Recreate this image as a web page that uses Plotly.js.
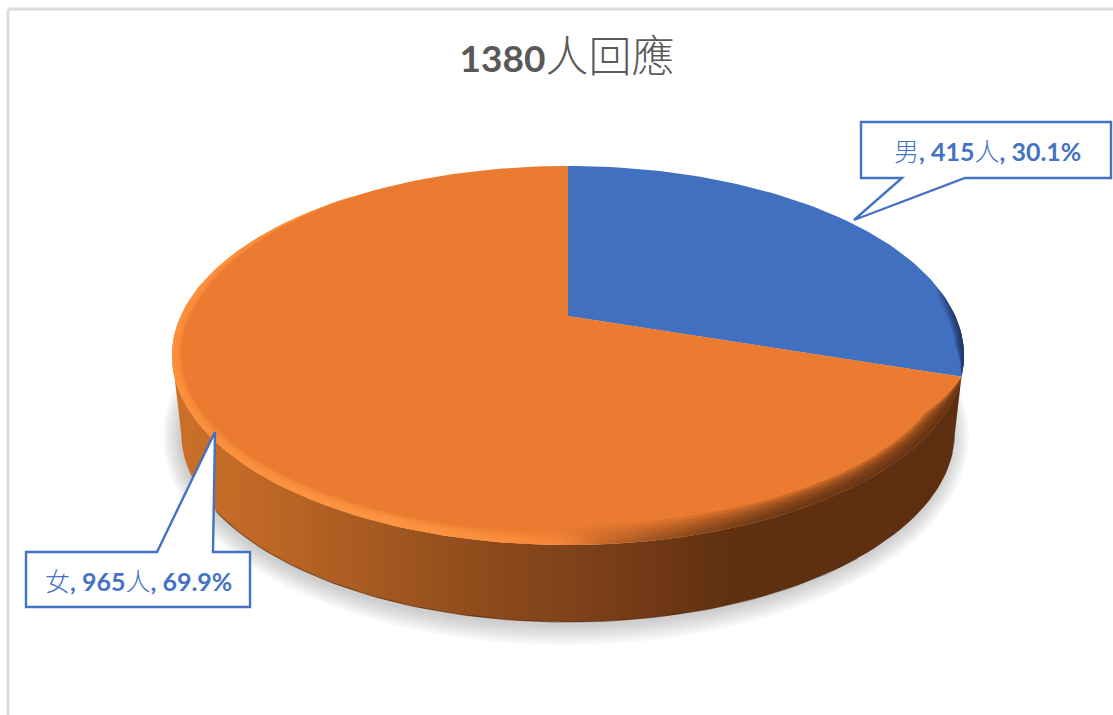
<!DOCTYPE html>
<html><head><meta charset="utf-8">
<script src="https://cdn.plot.ly/plotly-3.0.1.min.js"></script>
<style>html,body{margin:0;padding:0;background:#fff}#c{width:1113px;height:715px}</style>
</head><body><div id="c"></div>
<script>
var categories = ['男', '女'];
var counts = [415, 965];
var unit = '人';
var titleCount = 1380;
var titleSuffix = '回應';

var total = counts[0] + counts[1];
var splitDeg = 360 * counts[0] / total;
var cx = 568, cy = 316, k = 0.2084, A = 387.3, B = 181.3, midY = 355, depth = 77, lowScale = 0.977;
function rim(t) {
  var r = t * Math.PI / 180, u = Math.sin(r), v = Math.cos(r), d = 1 + k * v;
  return [cx + A * u / d, cy - B * v / d];
}
function low(t) { var p = rim(t); return [cx + (p[0] - cx) * lowScale, p[1] + depth]; }
function degs(a, b) { var o = [], s = a < b ? 1.5 : -1.5, t = a; while ((s > 0 && t < b) || (s < 0 && t > b)) { o.push(t); t += s; } o.push(b); return o; }
function poly(pts, extra) {
  var tr = { type: 'scatter', mode: 'lines', x: pts.map(function (p) { return p[0]; }), y: pts.map(function (p) { return p[1]; }),
    fill: 'toself', line: { width: 0 }, hoverinfo: 'skip', showlegend: false };
  for (var q in extra) tr[q] = extra[q];
  return tr;
}
function grad(stops) {
  var x0 = 172, x1 = 964;
  return { type: 'horizontal', start: x0, stop: x1, colorscale: stops.map(function (s) { return [(s[0] - x0) / (x1 - x0), s[1]]; }) };
}
function ring(a, b, w, fg, taper) {
  var ts = degs(a, b), outer = ts.map(rim);
  var inner = ts.slice().reverse().map(function (t) {
    var p = rim(t), f = Math.min(1, Math.min(t - a, b - t) / taper);
    var ww = w * f * (0.55 + 0.45 * Math.max(0, (p[1] - 166) / 379));
    return [568 + (p[0] - 568) * (1 - ww / 396), midY + (p[1] - midY) * (1 - ww / 190)];
  });
  return poly(outer.concat(inner), { fillgradient: grad(fg) });
}

var traces = [];
// ground shadow
for (var i = 0; i < 9; i++) {
  var ea = 387 + i * 2.0, eb = 190 + i * 2.4, pts = [];
  degs(0, 360).forEach(function (t) { var r = t * Math.PI / 180; pts.push([566 + ea * Math.cos(r), 436 + eb * Math.sin(r)]); });
  traces.push(poly(pts, { fillcolor: 'rgba(120,120,120,0.045)' }));
}
// walls
var wallBlue = degs(102, splitDeg);
traces.push(poly(wallBlue.map(rim).concat(wallBlue.slice().reverse().map(low)), { fillcolor: '#27477f' }));
var wallOrange = degs(splitDeg, 258);
traces.push(poly(wallOrange.map(rim).concat(wallOrange.slice().reverse().map(low)), {
  fillgradient: grad([[172, '#cb7029'], [260, '#bf6826'], [400, '#a0561f'], [480, '#8e4b1b'], [570, '#7f4219'], [660, '#703816'], [730, '#5f3010'], [964, '#5d2f10']])
}));
var lowEdge = degs(140, 235).map(low);
traces.push({ type: 'scatter', mode: 'lines', x: lowEdge.map(function (p) { return p[0]; }), y: lowEdge.map(function (p) { return p[1]; }),
  line: { color: 'rgba(70,32,5,0.55)', width: 1.2 }, hoverinfo: 'skip', showlegend: false });
// top faces
var blueArc = degs(0, splitDeg).map(rim);
traces.push(poly([[cx, cy]].concat(blueArc), { fillcolor: '#4270c0', name: categories[0] }));
var orangeArc = degs(splitDeg, 360).map(rim);
traces.push(poly([[cx, cy]].concat(orangeArc), { fillcolor: '#eb7b30', name: categories[1] }));
// bevels
var darkOr = [[172, 'rgba(94,47,16,0)'], [560, 'rgba(94,47,16,0)'], [640, 'rgba(94,47,16,0.08)'], [720, 'rgba(94,47,16,0.18)'], [800, 'rgba(94,47,16,0.27)'], [964, 'rgba(94,47,16,0.32)']];
var brightOr = [[172, 'rgba(255,146,62,0.34)'], [400, 'rgba(255,150,66,0.4)'], [520, 'rgba(255,146,62,0.22)'], [600, 'rgba(255,146,62,0)'], [964, 'rgba(255,146,62,0)']];
[20, 17, 14, 11, 8, 5, 2.5].forEach(function (w) { traces.push(ring(splitDeg, 250, w, darkOr, 12)); });
[12, 10, 8, 6, 4].forEach(function (w) { traces.push(ring(splitDeg, 320, w, brightOr, 45)); });
var darkBl = [[172, 'rgba(25,45,90,0)'], [935, 'rgba(25,45,90,0)'], [950, 'rgba(25,45,90,0.2)'], [964, 'rgba(25,45,90,0.32)']];
[11, 9, 7, 5, 3, 1.5].forEach(function (w) { traces.push(ring(40, splitDeg + 0.3, w, darkBl, 10)); });

function boldBits(i) {
  var pct = (100 * counts[i] / total).toFixed(1) + '%';
  return '<span style="font-family:\'Noto Sans CJK TC\';font-weight:300">' + categories[i] + '</span><b>, ' + counts[i] + '</b>' +
    '<span style="font-family:\'Noto Sans CJK TC\';font-weight:300">' + unit + '</span><b>, ' + pct + '</b>';
}
var blue = '#4472c4';
var shapes = [
  { type: 'line', xref: 'x', yref: 'y', x0: 8, x1: 8, y0: 9, y1: 715, line: { color: '#dcdcdc', width: 3 } },
  { type: 'line', xref: 'x', yref: 'y', x0: 8, x1: 1113, y0: 9, y1: 9, line: { color: '#dcdcdc', width: 3 } },
  { type: 'path', xref: 'x', yref: 'y', path: 'M861,122 L1111,122 L1111,178 L965,178 L854,220 L902,178 L861,178 Z', fillcolor: '#fff', line: { color: blue, width: 2.4 } },
  { type: 'path', xref: 'x', yref: 'y', path: 'M26,552 L157,552 L215,432 L213,552 L250,552 L250,607 L26,607 Z', fillcolor: '#fff', line: { color: blue, width: 2.4 } }
];
var annotations = [
  { xref: 'x', yref: 'y', x: 987, y: 150, text: boldBits(0), showarrow: false, xanchor: 'center', yanchor: 'middle', font: { family: 'Lato, "Noto Sans CJK TC"', size: 25, color: blue } },
  { xref: 'x', yref: 'y', x: 138, y: 580, text: boldBits(1), showarrow: false, xanchor: 'center', yanchor: 'middle', font: { family: 'Lato, "Noto Sans CJK TC"', size: 25, color: blue } }
];
var layout = {
  width: 1113, height: 715, margin: { l: 0, r: 0, t: 0, b: 0 }, paper_bgcolor: '#fff', plot_bgcolor: '#fff', showlegend: false,
  title: { text: '<b>' + titleCount + '</b><span style="font-family:\'Noto Sans CJK TC\';font-size:43px;font-weight:300">' + unit + titleSuffix + '</span>',
    x: 567 / 1113, xanchor: 'center', y: 1 - 59 / 715, yanchor: 'middle', font: { family: 'Lato, "Noto Sans CJK TC"', size: 37, color: '#595959' } },
  xaxis: { range: [0, 1113], visible: false, fixedrange: true },
  yaxis: { range: [715, 0], visible: false, fixedrange: true },
  shapes: shapes, annotations: annotations
};
Plotly.newPlot('c', traces, layout, { displayModeBar: false, staticPlot: true });
</script></body></html>
